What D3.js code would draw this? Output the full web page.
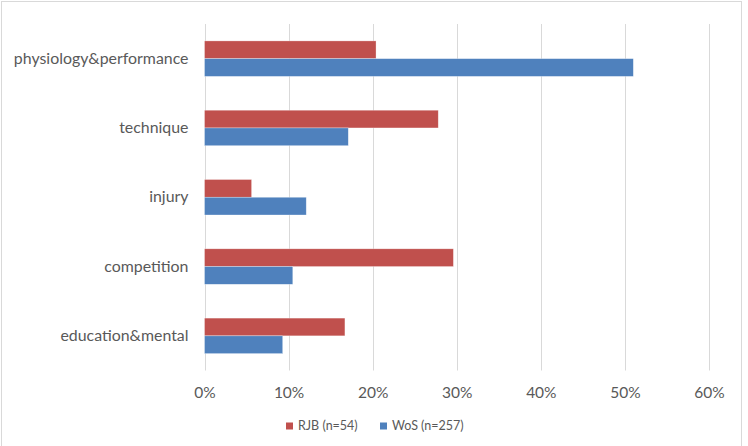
<!DOCTYPE html>
<html lang="en">
<head>
<meta charset="UTF-8">
<title>RJB vs WoS topics</title>
<script src="https://d3js.org/d3.v7.min.js"></script>
<style>
  body { margin: 0; background: #fff; font-family: Lato, "Open Sans", sans-serif; }
  svg text { fill: #595959; }
</style>
</head>
<body>
<svg width="748" height="446"></svg>
<script>
// categories, top to bottom
const categories = ["physiology&performance", "technique", "injury", "competition", "education&mental"];
// share of papers per topic (%)
const rjb = [20.4, 27.8, 5.6, 29.6, 16.7];
const wos = [51.0, 17.1, 12.1, 10.5, 9.3];
const seriesNames = ["RJB (n=54)", "WoS (n=257)"];
const colors = ["#C0504D", "#4F81BD"];
const ticks = [0, 10, 20, 30, 40, 50, 60];

const svg = d3.select("svg");

// chart area border
svg.append("rect")
  .attr("x", 1.5).attr("y", 1.5)
  .attr("width", 740).attr("height", 450)
  .attr("fill", "none").attr("stroke", "#d9d9d9");

const x = d3.scaleLinear().domain([0, 60]).range([204.5, 709]);
const y = d3.scaleBand().domain(categories).range([24, 370.5])
  .paddingInner(0.488).paddingOuter(0.244);
const ySub = d3.scaleBand().domain([0, 1]).range([0, y.bandwidth()]);

// gridlines
svg.append("g").selectAll("line")
  .data(ticks).join("line")
  .attr("x1", d => Math.round(x(d)) + 0.5).attr("x2", d => Math.round(x(d)) + 0.5)
  .attr("y1", 24).attr("y2", 370.5)
  .attr("stroke", "#d9d9d9").attr("stroke-width", 1);

// tick labels
const xAxis = svg.append("g")
  .attr("transform", "translate(0,370.5)")
  .call(d3.axisBottom(x).tickValues(ticks).tickFormat(d => d + "%").tickSize(0).tickPadding(16));
xAxis.select(".domain").remove();
xAxis.selectAll("text").attr("font-size", 15.5).attr("font-family", "Lato, sans-serif").attr("fill", "#595959");

// category labels
const yAxis = svg.append("g")
  .attr("transform", "translate(204.5,0)")
  .call(d3.axisLeft(y).tickSize(0).tickPadding(16));
yAxis.select(".domain").remove();
yAxis.selectAll("text").attr("font-size", 15.9).attr("font-family", "Lato, sans-serif").attr("fill", "#595959");

// bars
const series = [rjb, wos];
series.forEach((vals, s) => {
  svg.append("g").selectAll("rect")
    .data(vals).join("rect")
    .attr("x", x(0))
    .attr("y", (d, i) => y(categories[i]) + ySub(s))
    .attr("width", d => x(d) - x(0))
    .attr("height", ySub.bandwidth())
    .attr("fill", colors[s])
    .attr("stroke", "#fff").attr("stroke-opacity", 0.5).attr("stroke-width", 0.6);
});

// legend
const legend = svg.append("g").attr("transform", "translate(286,426)");
const legendX = [0, 94];
seriesNames.forEach((name, i) => {
  const g = legend.append("g").attr("transform", `translate(${legendX[i]},0)`);
  g.append("rect").attr("x", 0).attr("y", -3.5).attr("width", 7).attr("height", 7).attr("fill", colors[i]);
  g.append("text").attr("x", 12).attr("y", 0).attr("dy", "0.35em")
    .attr("font-size", 12.5).text(name);
});
</script>
</body>
</html>
